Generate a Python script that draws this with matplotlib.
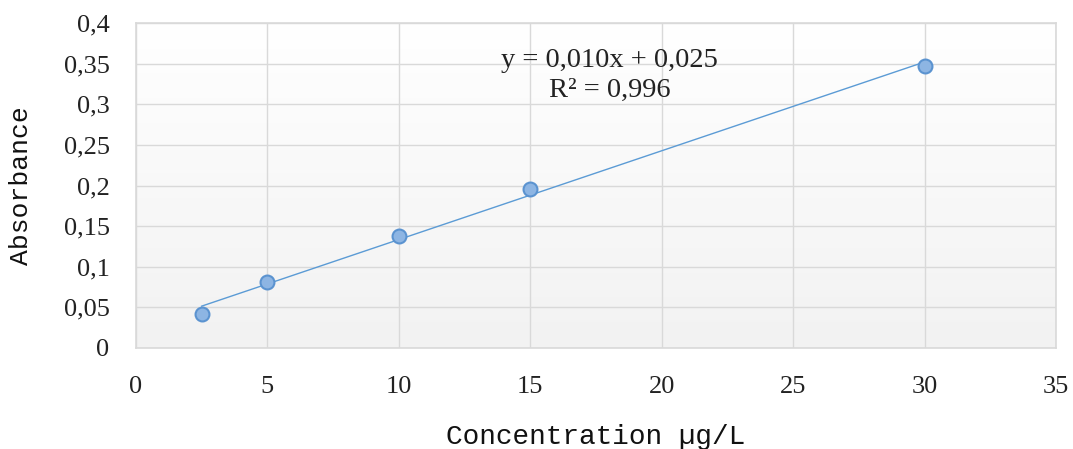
import numpy as np
import matplotlib
matplotlib.use("Agg")
import matplotlib.pyplot as plt

conc = [2.5, 5, 10, 15, 30]
absorb = [0.042, 0.081, 0.138, 0.196, 0.347]
x_ticks = [0, 5, 10, 15, 20, 25, 30, 35]
y_ticks = [0, 0.05, 0.1, 0.15, 0.2, 0.25, 0.3, 0.35, 0.4]
y_tick_labels = ["0", "0,05", "0,1", "0,15", "0,2", "0,25", "0,3", "0,35", "0,4"]
eq_line1 = "y = 0,010x + 0,025"
eq_line2 = "R² = 0,996"

fig = plt.figure(figsize=(10.73, 4.49), dpi=100)
ax = fig.add_axes([136/1073, 101/449, 920/1073, 325/449])

# gradient background
grad = np.linspace(1.0, 0.949, 256).reshape(-1, 1)
ax.imshow(np.dstack([grad, grad, grad]), extent=[0, 1, 0, 1], transform=ax.transAxes,
          aspect="auto", zorder=0, interpolation="bilinear")

ax.set_xlim(0, 35)
ax.set_ylim(0, 0.4)
ax.set_xticks(x_ticks)
ax.set_yticks(y_ticks)
ax.set_yticklabels(y_tick_labels)
ax.grid(True, color="#d9d9d9", linewidth=1.0, zorder=1)
ax.set_axisbelow(True)
for s in ax.spines.values():
    s.set_color("#d9d9d9")
    s.set_linewidth(1.2)
ax.tick_params(length=0, labelsize=19, pad=19)
for lab in ax.get_xticklabels() + ax.get_yticklabels():
    lab.set_family("Liberation Serif")
    lab.set_color("#222222")
ax.tick_params(axis="x", pad=20)

# trendline
coef = np.polyfit(conc, absorb, 1)
xs = np.array([min(conc), max(conc)])
ax.plot(xs, np.polyval(coef, xs), color="#5b9bd5", linewidth=1.0, zorder=3)
ax.plot(conc, absorb, "o", markersize=10, markerfacecolor="#8db5e3",
        markeredgecolor="#5b93d0", markeredgewidth=1.5, zorder=4, linestyle="none")

ax.text(0.515, 0.885, eq_line1, transform=ax.transAxes, ha="center", va="center",
        fontsize=20.5, family="Liberation Serif", color="#222222")
ax.text(0.515, 0.793, eq_line2, transform=ax.transAxes, ha="center", va="center",
        fontsize=20.5, family="Liberation Serif", color="#222222")

ax.set_xlabel("Concentration µg/L", family="Liberation Mono", fontsize=20,
              color="#111111", labelpad=19)
ax.set_ylabel("Absorbance", family="Liberation Mono", fontsize=19,
              color="#111111", labelpad=22)

fig.savefig("out.png", dpi=100)
